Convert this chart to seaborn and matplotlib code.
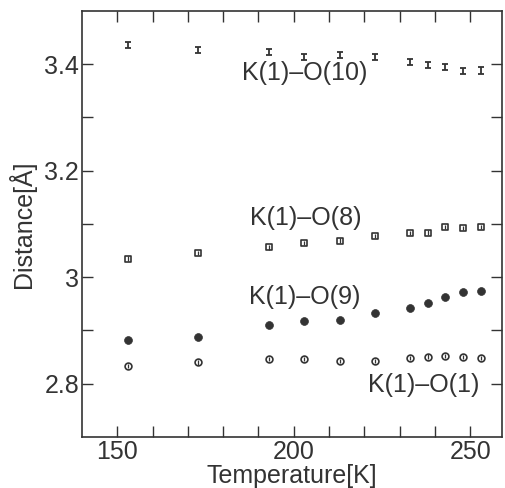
import pandas as pd
import matplotlib.pyplot as plt
import seaborn as sns

# temperatures [K]
temps = [153, 173, 193, 203, 213, 223, 233, 238, 243, 248, 253]

# distances [A]
k_o10 = [3.436, 3.427, 3.423, 3.414, 3.417, 3.414, 3.404, 3.399, 3.395, 3.387, 3.388]
k_o8 = [3.035, 3.046, 3.056, 3.065, 3.069, 3.078, 3.083, 3.084, 3.095, 3.093, 3.095]
k_o9 = [2.883, 2.888, 2.911, 2.918, 2.920, 2.933, 2.942, 2.952, 2.963, 2.973, 2.975]
k_o1 = [2.834, 2.840, 2.847, 2.847, 2.843, 2.843, 2.849, 2.851, 2.852, 2.850, 2.849]

err_o10 = 0.006
err_small = 0.004

labels = ["K(1)\u2013O(10)", "K(1)\u2013O(8)", "K(1)\u2013O(9)", "K(1)\u2013O(1)"]
label_x = [185.3, 187.6, 187.3, 221.0]
label_y = [3.384, 3.112, 2.962, 2.797]

df = pd.DataFrame({
    "T": temps * 4,
    "d": k_o10 + k_o8 + k_o9 + k_o1,
    "bond": sum([[lab] * len(temps) for lab in labels], []),
})

sns.set_style("ticks")
plt.rcParams['font.family'] = ['Liberation Sans', 'DejaVu Sans']
plt.rcParams['font.size'] = 18

ink = "#333333"
fig = plt.figure(figsize=(5.06, 4.88), dpi=100)
ax = fig.add_axes([0.162, 0.1045, 0.830, 0.873])

# error bars
ax.errorbar(temps, k_o10, yerr=err_o10, fmt='none', ecolor=ink, elinewidth=1.3,
            capsize=2.4, capthick=1.3)

# markers
sns.scatterplot(data=df[df.bond == labels[1]], x="T", y="d", marker='s', s=24,
                facecolor='white', edgecolor=ink, linewidth=1.2, ax=ax, zorder=3)
sns.scatterplot(data=df[df.bond == labels[2]], x="T", y="d", marker='o', s=32,
                color=ink, edgecolor=ink, linewidth=0.5, ax=ax, zorder=3)
sns.scatterplot(data=df[df.bond == labels[3]], x="T", y="d", marker='o', s=24,
                facecolor='white', edgecolor=ink, linewidth=1.2, ax=ax, zorder=3)
# inner bars on top of open markers
ax.errorbar(temps, k_o8, yerr=err_small, fmt='none', ecolor=ink, elinewidth=0.9, zorder=4)
ax.errorbar(temps, k_o1, yerr=err_small, fmt='none', ecolor=ink, elinewidth=0.9, zorder=4)

for lab, lx, ly in zip(labels, label_x, label_y):
    ax.text(lx, ly, lab, ha='left', va='center', fontsize=18, color=ink)

ax.set_xlim(140, 259)
ax.set_ylim(2.7, 3.5)
ax.set_xticks([150, 200, 250])
ax.set_xticks(range(150, 260, 10), minor=True)
ax.set_yticks([2.8, 3.0, 3.2, 3.4])
ax.set_yticklabels(["2.8", "3", "3.2", "3.4"])
ax.set_yticks([2.8, 2.9, 3.0, 3.1, 3.2, 3.3, 3.4], minor=True)
ax.tick_params(which='both', direction='in', top=True, right=True, length=8,
               width=1, color=ink, labelsize=18, labelcolor=ink, pad=2)
for sp in ax.spines.values():
    sp.set_visible(True)
    sp.set_linewidth(1.2)
    sp.set_color(ink)

ax.set_xlabel("Temperature[K]", fontsize=18, color=ink, labelpad=0)
ax.set_ylabel("Distance[\u00c5]", fontsize=18, color=ink, labelpad=6)

fig.savefig("out.png", dpi=100)
